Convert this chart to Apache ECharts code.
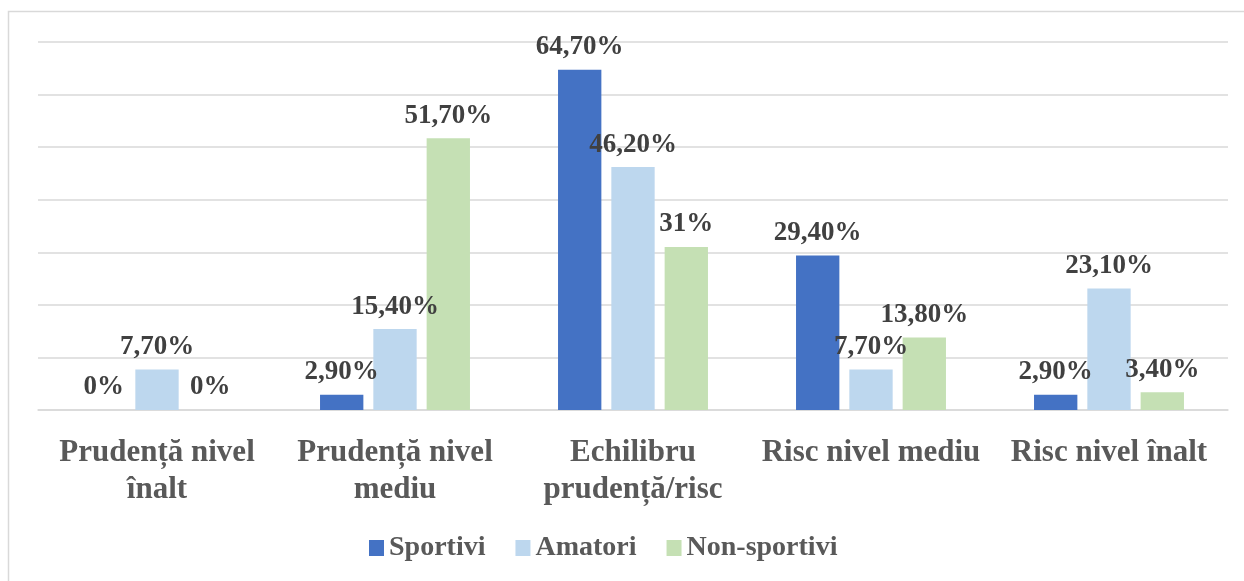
<!DOCTYPE html>
<html>
<head>
<meta charset="utf-8">
<script src="https://cdn.jsdelivr.net/npm/echarts@6/dist/echarts.min.js"></script>
<style>
html,body{margin:0;padding:0;background:#fff;}
#c{width:1244px;height:581px;}
</style>
</head>
<body>
<div id="c"></div>
<script>
var categories = ['Prudență nivel\nînalt', 'Prudență nivel\nmediu', 'Echilibru\nprudență/risc', 'Risc nivel mediu', 'Risc nivel înalt'];
var seriesNames = ['Sportivi', 'Amatori', 'Non-sportivi'];
var sportivi = [0, 2.9, 64.7, 29.4, 2.9];
var amatori = [7.7, 15.4, 46.2, 7.7, 23.1];
var nonSportivi = [0, 51.7, 31, 13.8, 3.4];
var colors = ['#4472C4', '#BDD7EE', '#C5E0B4'];
var yMin = 0, yMax = 70, yInterval = 10;

var FONT = '"Liberation Serif", "Times New Roman", serif';
function fmt(p) {
  var v = p.value;
  if (Math.round(v) === v) return v + '%';
  return v.toFixed(2).replace('.', ',') + '%';
}
function mk(name, data, color) {
  return {
    name: name, type: 'bar', data: data,
    barGap: '23%', barCategoryGap: '37%',
    itemStyle: { color: color },
    label: {
      show: true, position: 'top', distance: 9,
      formatter: fmt,
      fontFamily: FONT, fontWeight: 'bold', fontSize: 27, color: '#404040'
    }
  };
}
var chart = echarts.init(document.getElementById('c'), null, { renderer: 'canvas' });
chart.setOption({
  animation: false,
  color: colors,
  graphic: [{
    type: 'rect', silent: true,
    shape: { x: 8.5, y: 11.5, width: 1400, height: 700 },
    style: { fill: 'none', stroke: '#D9D9D9', lineWidth: 1.5 }
  }],
  grid: { left: 38, right: 16, top: 42, bottom: 171 },
  legend: {
    data: seriesNames, left: 364, top: 529,
    itemWidth: 15, itemHeight: 16, itemGap: 30,
    icon: 'rect',
    textStyle: { fontFamily: FONT, fontWeight: 'bold', fontSize: 28, color: '#595959', padding: [0, 0, 0, 0] }
  },
  xAxis: {
    type: 'category', data: categories,
    axisLine: { lineStyle: { color: '#D9D9D9', width: 1.5 } },
    axisTick: { show: false },
    axisLabel: {
      interval: 0, margin: 24, lineHeight: 37,
      fontFamily: FONT, fontWeight: 'bold', fontSize: 31, color: '#595959'
    }
  },
  yAxis: {
    type: 'value', min: yMin, max: yMax, interval: yInterval,
    axisLabel: { show: false },
    axisLine: { show: false }, axisTick: { show: false },
    splitLine: { lineStyle: { color: '#D9D9D9', width: 1.5 } }
  },
  series: [mk(seriesNames[0], sportivi, colors[0]), mk(seriesNames[1], amatori, colors[1]), mk(seriesNames[2], nonSportivi, colors[2])]
});
</script>
</body>
</html>
